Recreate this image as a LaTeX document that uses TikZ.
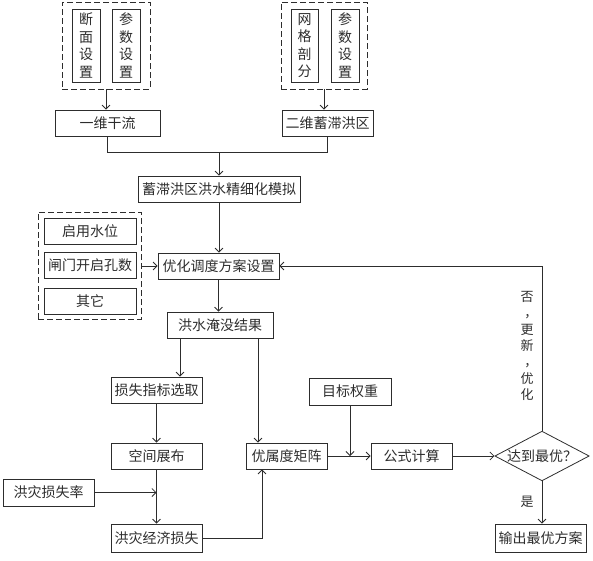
\documentclass[tikz,border=0pt]{standalone}
\usepackage{fontspec}
\setmainfont{Noto Sans CJK SC}
\usetikzlibrary{positioning}
\usetikzlibrary{arrows.meta, shapes.geometric}
\definecolor{line}{RGB}{45,45,45}

\tikzset{
  box/.style={draw=line, minimum height=26pt, inner sep=1pt, font=\fontsize{14}{16}\selectfont},
  vbox/.style={draw=line, minimum width=28pt, minimum height=73pt, inner sep=1pt, align=center, font=\fontsize{14}{17.5}\selectfont},
  group/.style={draw=line, dash pattern=on 6pt off 3pt, inner sep=0pt},
  decide/.style={diamond, draw=line, aspect=1.9, minimum width=90pt, minimum height=48pt, inner sep=0pt, font=\fontsize{14}{16}\selectfont},
  tag/.style={inner sep=0pt, align=center, font=\fontsize{13}{16.3}\selectfont}
}
\newcommand{\vdou}{\makebox[1em][l]{\hskip0.3em ，}}

\begin{document}
\begin{tikzpicture}[x=1pt, y=-1pt, line width=0.8pt, color=line, >={Straight Barb[length=4pt,width=8pt]}]
    \useasboundingbox (0,0) rectangle (593,560);

    % nhóm trái trên: 断面设置, 参数设置
    \node[group, minimum width=88pt, minimum height=87pt] (g1) at (106,45.5) {};
    \node[vbox] (dm) at (86,45.5) {断\\面\\设\\置};
    \node[vbox] (cs1) at (126,45.5) {参\\数\\设\\置};
    \node[box, minimum width=105pt] (yw) at (107.5,123) {一维干流};
    \draw[->] (g1.south) -- (g1.south |- yw.north);

    % nhóm phải trên: 网格剖分, 参数设置
    \node[group, minimum width=86pt, minimum height=87pt] (g2) at (324,45.5) {};
    \node[vbox, minimum width=27pt] (wg) at (304.5,45.5) {网\\格\\剖\\分};
    \node[vbox] (cs2) at (345,45.5) {参\\数\\设\\置};
    \node[box, minimum width=91pt] (ew) at (327.5,123) {二维蓄滞洪区};
    \draw[->] (g2.south) -- (g2.south |- ew.north);

    % hợp hai nhánh
    \coordinate (hb) at (219,152);
    \node[box, minimum width=162pt] (xz) at (219,189) {蓄滞洪区洪水精细化模拟};
    \draw (yw.south) -- (yw.south |- hb) -- (ew.south |- hb) -- (ew.south);
    \draw[->] (hb) -- (xz.north);

    % nhóm trái giữa
    \node[group, minimum width=103pt, minimum height=107pt] (g3) at (89.5,265.5) {};
    \node[box, minimum width=92pt] (qy) at (90,231) {启用水位};
    \node[box, minimum width=92pt] (zm) at (90,265.5) {闸门开启孔数};
    \node[box, minimum width=92pt] (qt) at (90,301) {其它};

    % 优化调度方案设置
    \node[box, minimum width=121pt] (yh) at (218.5,266) {优化调度方案设置};
    \draw[->] (xz.south) -- (xz.south |- yh.north);
    \draw[->] (g3.east |- yh.west) -- (yh.west);

    % 洪水淹没结果
    \node[box, minimum width=106pt] (ym) at (220,325) {洪水淹没结果};
    \draw[->] (yh.south) -- (yh.south |- ym.north);

    % nhánh trái
    \node[box, minimum width=91pt] (ss) at (156.5,390) {损失指标选取};
    \node[box, minimum width=91pt] (kj) at (156.5,456) {空间展布};
    \node[box, minimum width=91pt, minimum height=27pt] (hz) at (48.5,492.5) {洪灾损失率};
    \node[box, minimum width=91pt, minimum height=28pt] (jj) at (156.5,538) {洪灾经济损失};
    \draw[->] ([xshift=-40pt]ym.south) -- ([xshift=-40pt]ym.south |- ss.north);
    \draw[->] (ss.south) -- (kj.north);
    \draw[->] (kj.south) -- (jj.north);
    \draw[->] (hz.east) -- (hz.east -| kj.south);

    % 优属度矩阵
    \node[box, minimum width=81pt] (ys) at (286.5,456) {优属度矩阵};
    \draw[->] ([xshift=38pt]ym.south) -- ([xshift=38pt]ym.south |- ys.north);
    \draw[->] (jj.east) -| ([xshift=-24.5pt]ys.south);

    % 目标权重, 公式计算
    \node[box, minimum width=82pt, minimum height=27pt] (mb) at (350,391.5) {目标权重};
    \node[box, minimum width=81pt] (gs) at (411.5,456) {公式计算};
    \draw[->] (ys.east) -- (gs.west);
    \draw[->] (mb.south) -- (mb.south |- gs.west);

    % 达到最优？
    \node[decide] (db) at (542,456) {达到最优？};
    \node[box, minimum width=91pt, minimum height=28pt] (sc) at (540.5,538) {输出最优方案};
    \draw[->] (gs.east) -- (db.west);
    \draw[->] (db.south) -- (db.south |- sc.north);
    \draw[->] (db.north) |- (yh.east);
    \node[tag] (fo) at (527,346) {否\\\vdou\\更\\新\\\vdou\\优\\化};
    \node[tag] (shi) at (527,502) {是};

\end{tikzpicture}
\end{document}
